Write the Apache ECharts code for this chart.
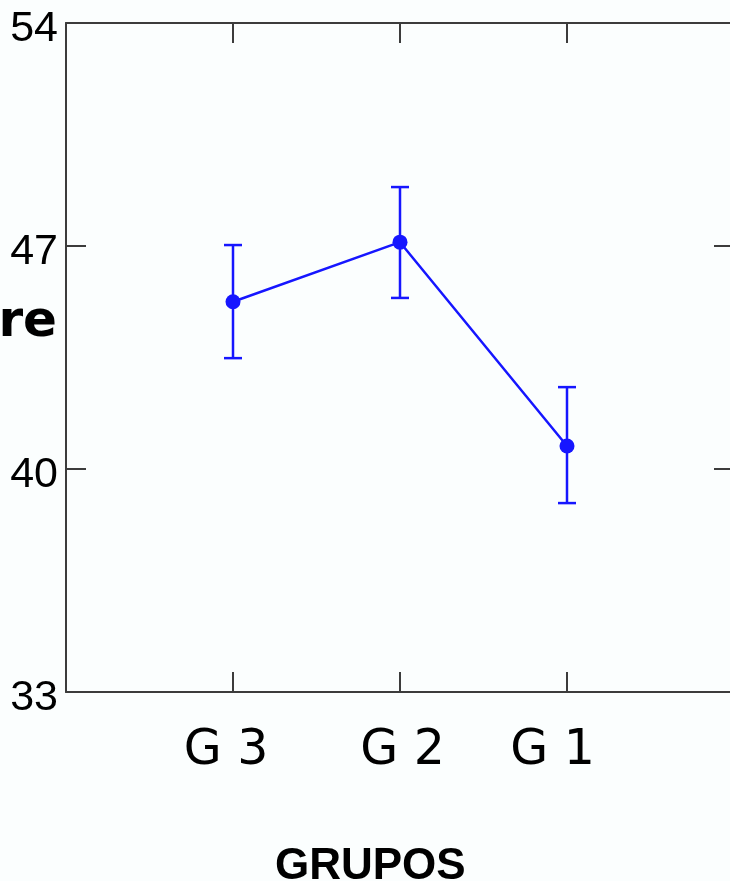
<!DOCTYPE html>
<html>
<head>
<meta charset="utf-8">
<script src="https://cdn.jsdelivr.net/npm/echarts@6/dist/echarts.min.js"></script>
<style>
html,body{margin:0;padding:0;background:#fbfefe;}
#chart{width:730px;height:881px;}
</style>
</head>
<body>
<div id="chart"></div>
<script>
const categories = ['G 3', 'G 2', 'G 1'];
const means = [45.25, 47.12, 40.72];
const errLow = [43.48, 45.37, 38.93];
const errHigh = [47.03, 48.85, 42.57];
const yTickValues = [33, 40, 47, 54];
const xTitle = 'GRUPOS';
const yTitle = 're';

const chart = echarts.init(document.getElementById('chart'));
const blue = '#1616ff';
const axisColor = '#3c3c3c';

const pointData = categories.map((c, i) => [i + 1, means[i]]);
const errData = categories.map((c, i) => [i + 1, errLow[i], errHigh[i]]);

const labelShift = {1: [0, 14, 0, 0], 2: [0, 0, 0, 5], 3: [0, 29, 0, 0]};
const rich = {};
categories.forEach((c, i) => {
  rich['c' + (i + 1)] = {
    fontFamily: 'DejaVu Sans', fontSize: 49, color: '#000',
    padding: labelShift[i + 1]
  };
});

const axisLineStyle = {show: true, onZero: false, lineStyle: {color: axisColor, width: 2}};
const tickStyle = {show: true, inside: true, length: 20, lineStyle: {color: axisColor, width: 2}};

const option = {
  backgroundColor: '#fbfefe',
  animation: false,
  grid: {left: 66, top: 23, width: 668, height: 669, containLabel: false, outerBoundsMode: 'none'},
  xAxis: [
    {
      type: 'value', min: 0, max: categories.length + 1, interval: 1,
      position: 'bottom',
      axisLine: axisLineStyle,
      axisTick: tickStyle,
      splitLine: {show: false},
      axisLabel: {
        show: true, margin: 35,
        formatter: v => (categories[v - 1] ? '{c' + v + '|' + categories[v - 1] + '}' : ''),
        rich: rich
      }
    },
    {
      type: 'value', min: 0, max: categories.length + 1, interval: 1,
      position: 'top',
      axisLine: axisLineStyle,
      axisTick: tickStyle,
      splitLine: {show: false},
      axisLabel: {show: false}
    }
  ],
  yAxis: [
    {
      type: 'value', min: yTickValues[0], max: yTickValues[yTickValues.length - 1],
      interval: yTickValues[1] - yTickValues[0],
      position: 'left',
      axisLine: axisLineStyle,
      axisTick: tickStyle,
      splitLine: {show: false},
      axisLabel: {
        show: true, margin: 8,
        formatter: '{y|{value}}',
        rich: {
          y: {color: '#000', fontFamily: 'Liberation Sans', fontSize: 43, padding: [12, 0, 0, 0]}
        }
      }
    },
    {
      type: 'value', min: yTickValues[0], max: yTickValues[yTickValues.length - 1],
      interval: yTickValues[1] - yTickValues[0],
      position: 'right',
      axisLine: axisLineStyle,
      axisTick: tickStyle,
      splitLine: {show: false},
      axisLabel: {show: false}
    }
  ],
  graphic: [
    {
      type: 'text', left: 275, top: 845,
      style: {text: xTitle, font: 'bold 44px "Liberation Sans"', fill: '#000'}
    },
    {
      type: 'text', right: 730 - 57, top: 298,
      style: {text: yTitle, font: 'bold 50px "DejaVu Sans"', fill: '#000'}
    }
  ],
  series: [
    {
      type: 'custom',
      xAxisIndex: 0, yAxisIndex: 0,
      data: errData,
      z: 2,
      renderItem: function (params, api) {
        const x = api.value(0);
        const lo = api.coord([x, api.value(1)]);
        const hi = api.coord([x, api.value(2)]);
        const w = 9;
        const style = {stroke: blue, lineWidth: 2.5};
        return {
          type: 'group',
          children: [
            {type: 'line', shape: {x1: lo[0], y1: lo[1], x2: hi[0], y2: hi[1]}, style: style},
            {type: 'line', shape: {x1: lo[0] - w, y1: lo[1], x2: lo[0] + w, y2: lo[1]}, style: style},
            {type: 'line', shape: {x1: hi[0] - w, y1: hi[1], x2: hi[0] + w, y2: hi[1]}, style: style}
          ]
        };
      }
    },
    {
      type: 'line',
      xAxisIndex: 0, yAxisIndex: 0,
      data: pointData,
      z: 3,
      symbol: 'circle', symbolSize: 15,
      lineStyle: {color: blue, width: 2.5},
      itemStyle: {color: blue}
    }
  ]
};
chart.setOption(option);
</script>
</body>
</html>
